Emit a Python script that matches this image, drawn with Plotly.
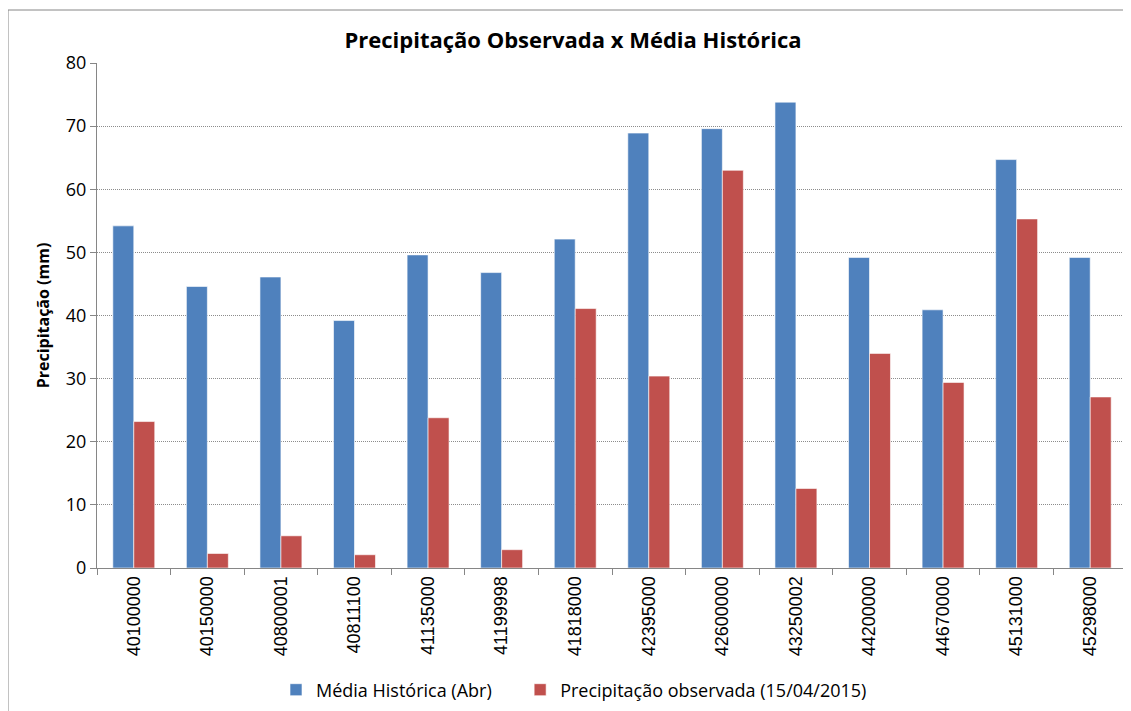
import plotly.graph_objects as go

categories = ["40100000", "40150000", "40800001", "40811100", "41135000", "41199998", "41818000",
              "42395000", "42600000", "43250002", "44200000", "44670000", "45131000", "45298000"]
media_historica = [54.2, 44.6, 46.1, 39.2, 49.6, 46.8, 52.1, 68.9, 69.6, 73.8, 49.2, 40.9, 64.7, 49.2]
precip_observada = [23.2, 2.3, 5.1, 2.1, 23.8, 2.9, 41.1, 30.4, 63.0, 12.6, 34.0, 29.4, 55.3, 27.1]

W, H = 1131, 711
OFF = 8  # page body margin
# target screen positions of plot area: left 97, right 1127, top 63, bottom 568
L = 97 - OFF
R = W - (1127 - OFF)
T = 63 - OFF
B = H - (568 - OFF)
pw, ph = W - L - R, H - T - B

def px(sx):
    return (sx - OFF - L) / pw

def py(sy):
    return (H - B - (sy - OFF)) / ph

fig = go.Figure()
fig.add_trace(go.Bar(x=categories, y=media_historica, name="Média Histórica (Abr)" + "&nbsp;" * 5,
                     marker=dict(color="#4F81BD", line=dict(color="rgba(255,255,255,0.6)", width=1))))
fig.add_trace(go.Bar(x=categories, y=precip_observada, name="Precipitação observada (15/04/2015)",
                     marker=dict(color="#C0504D", line=dict(color="rgba(255,255,255,0.6)", width=1))))

fig.update_layout(
    width=W, height=H,
    margin=dict(l=L, r=R, t=T, b=B, autoexpand=False),
    paper_bgcolor="white", plot_bgcolor="white",
    barmode="group", bargap=0.43, bargroupgap=0,
    title=dict(text="<b>Precipitação Observada x Média Histórica</b>",
               font=dict(family="Open Sans", size=22, color="black"),
               x=px(573), xref="paper", xanchor="center", y=1 - (40 - OFF) / H, yanchor="middle"),
    showlegend=True,
    legend=dict(orientation="h", x=px(276), xanchor="left", y=py(690), yanchor="middle",
                font=dict(family="Open Sans", size=18, color="black"),
                itemwidth=30, traceorder="normal"),
    font=dict(family="Open Sans", color="black"),
)

fig.update_xaxes(type="category", tickangle=-90, tickson="boundaries", ticks="outside", ticklen=6,
                 tickcolor="#868686", showline=True, linecolor="#868686", linewidth=1,
                 showgrid=False, tickfont=dict(family="Liberation Sans", size=18, color="black"))
fig.update_yaxes(range=[0, 80], dtick=10, ticks="outside", ticklen=6, tickcolor="#868686",
                 showline=True, linecolor="#868686", linewidth=1, zeroline=False,
                 showgrid=True, gridcolor="#8c8c8c", griddash="1px,1px", gridwidth=1,
                 tickfont=dict(family="Open Sans", size=18, color="black"),
                 title=dict(text="<b>Precipitação (mm)</b>", font=dict(family="Open Sans", size=16, color="black"),
                            standoff=12))

# right border of plot area
fig.add_shape(type="line", xref="paper", yref="paper", x0=1, x1=1, y0=0, y1=1,
              line=dict(color="#868686", width=1))
# outer chart border
fig.add_shape(type="rect", xref="paper", yref="paper", x0=px(8), x1=px(1150), y0=py(730), y1=py(10),
              line=dict(color="#868686", width=1), fillcolor="rgba(0,0,0,0)", layer="below")

fig.write_html("out.html")
